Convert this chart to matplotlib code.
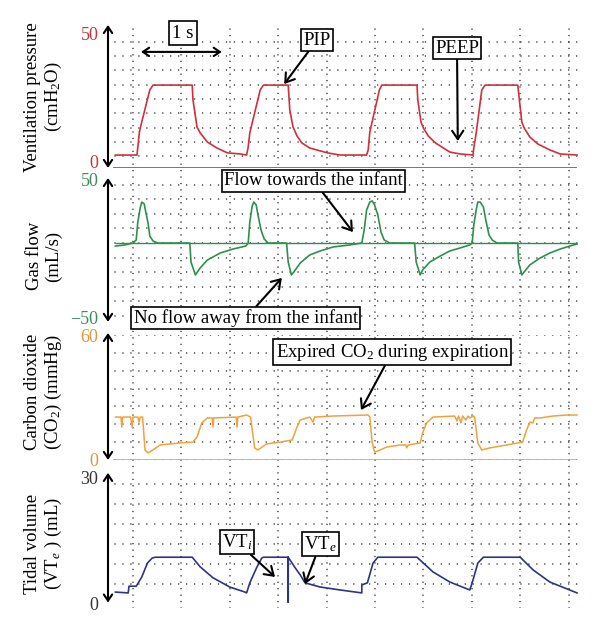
import numpy as np
import matplotlib
matplotlib.use('Agg')
import matplotlib.pyplot as plt

plt.rcParams['font.family'] = ['Liberation Serif', 'DejaVu Serif']
plt.rcParams['mathtext.fontset'] = 'custom'
plt.rcParams['mathtext.rm'] = 'Liberation Serif'
plt.rcParams['mathtext.it'] = 'Liberation Serif:italic'
plt.rcParams['mathtext.bf'] = 'Liberation Serif:bold'

# ---------------- data (time in s) ----------------
pressure_t = [-0.22, 0.05, 0.08, 0.10, 0.21, 0.25, 0.74, 0.75, 0.80, 0.84, 0.93, 1.05, 1.18, 1.34, 1.42,
              1.44, 1.46, 1.59, 1.63, 1.94, 1.96, 2.00, 2.05, 2.11, 2.21, 2.43, 2.59, 2.92,
              2.94, 2.96, 3.08, 3.11, 3.55, 3.56, 3.60, 3.63, 3.69, 3.78, 3.96, 4.09, 4.25,
              4.26, 4.29, 4.36, 4.40, 4.81, 4.83, 4.86, 4.89, 4.96, 5.06, 5.21, 5.34, 5.55]
pressure_v = [4.8, 4.8, 13.3, 15.9, 28.9, 30.7, 30.7, 25.2, 15.2, 13.0, 9.6, 7.4, 5.6, 5.2, 4.8,
              7.8, 13.0, 28.9, 30.7, 30.7, 21.5, 15.2, 11.9, 9.3, 7.4, 5.6, 4.8, 4.8,
              6.7, 13.3, 28.9, 30.7, 30.7, 25.2, 17.0, 14.8, 11.9, 9.3, 5.9, 5.2, 4.8,
              7.4, 13.0, 28.9, 30.7, 30.7, 25.2, 17.0, 14.8, 11.5, 8.9, 6.7, 5.2, 4.8]

flow_t = [-0.22, -0.10, 0.00, 0.04, 0.06, 0.09, 0.11, 0.14, 0.16, 0.19, 0.21, 0.25, 0.31,
          0.71, 0.725, 0.78, 0.84, 0.93, 1.09, 1.25, 1.41, 1.44,
          1.46, 1.49, 1.51, 1.54, 1.56, 1.60, 1.64, 1.69,
          1.92, 1.94, 1.98, 2.01, 2.09, 2.21, 2.34, 2.50, 2.71, 2.86,
          2.89, 2.92, 2.96, 2.99, 3.02, 3.06, 3.10, 3.14, 3.21,
          3.52, 3.54, 3.59, 3.62, 3.71, 3.84, 3.96, 4.09, 4.21, 4.24,
          4.26, 4.29, 4.31, 4.34, 4.38, 4.41, 4.45, 4.49, 4.55,
          4.81, 4.82, 4.86, 4.90, 4.96, 5.09, 5.21, 5.34, 5.46, 5.55]
flow_v = [1.8, 2.6, 4.0, 6.2, 19.3, 29.6, 33.9, 32.5, 26.6, 17.9, 9.1, 5.5, 4.0,
          4.0, -9.9, -19.3, -14.2, -8.4, -3.3, -0.4, 1.8, 4.0,
          19.3, 31.0, 33.9, 31.8, 25.2, 13.5, 6.9, 4.0,
          4.0, -9.9, -19.3, -17.2, -10.6, -4.7, -1.8, 1.1, 2.6, 4.0,
          13.5, 28.1, 33.9, 34.7, 31.8, 24.5, 12.0, 6.2, 4.0,
          4.0, -9.9, -19.3, -15.7, -9.9, -5.5, -1.8, 0.4, 2.6, 4.0,
          17.2, 28.1, 33.9, 33.9, 30.3, 20.8, 9.9, 6.2, 4.0,
          4.0, -9.9, -19.3, -16.4, -12.0, -6.9, -3.3, -0.4, 1.8, 3.3]
flow_baseline = 4.0

co2_t = [-0.22, -0.15, -0.14, -0.13, -0.03, -0.01, 0.00, 0.06, 0.075, 0.09, 0.12, 0.15, 0.19, 0.25, 0.34,
         0.59, 0.75, 0.80, 0.86, 0.93, 0.99, 1.00, 1.01, 1.29, 1.30, 1.31, 1.42, 1.47, 1.52, 1.56,
         1.67, 1.84, 1.99, 2.05, 2.09, 2.21, 2.25, 2.27, 2.50, 2.94, 2.96, 2.99, 3.02, 3.09, 3.17,
         3.34, 3.41, 3.42, 3.44, 3.59, 3.62, 3.67, 3.75, 4.02, 4.05, 4.07, 4.10, 4.12, 4.16, 4.19,
         4.21, 4.25, 4.27, 4.31, 4.36, 4.46, 4.67, 4.87, 4.92, 4.96, 5.00, 5.02, 5.09, 5.25, 5.42, 5.55]
co2_v = [20.6, 20.6, 15.8, 20.6, 20.6, 15.8, 20.6, 20.6, 18.2, 20.6, 20.6, 4.8, 3.4, 4.8, 7.2,
         8.2, 8.6, 11.0, 17.8, 20.2, 20.2, 15.8, 20.2, 20.6, 15.8, 20.6, 21.6, 20.6, 5.8, 4.8,
         7.7, 8.6, 9.6, 15.8, 19.2, 20.6, 18.2, 20.6, 21.1, 21.6, 20.6, 8.2, 3.8, 4.8, 6.2,
         7.2, 7.2, 5.8, 7.2, 8.2, 13.0, 17.8, 20.6, 21.1, 18.7, 21.1, 17.8, 21.1, 19.2, 21.1,
         20.2, 21.1, 20.6, 8.2, 4.8, 5.8, 7.2, 8.6, 14.4, 18.2, 17.8, 20.2, 20.2, 21.1, 21.6, 21.6]

vt_t = [-0.22, -0.06, -0.05, 0.04, 0.05, 0.11, 0.18, 0.24, 0.28, 0.74,
        0.84, 1.00, 1.21, 1.40, 1.42, 1.46, 1.55, 1.61, 1.63, 1.94,
        1.94, 1.94, 2.03, 2.09, 2.15, 2.34, 2.59, 2.86, 2.86, 2.93,
        3.00, 3.06, 3.55, 3.75, 3.96, 4.21, 4.24, 4.31, 4.38, 4.84,
        5.00, 5.21, 5.55]
vt_v = [2.6, 2.4, 4.0, 4.0, 4.3, 6.2, 9.5, 10.7, 10.9, 10.9,
        8.6, 6.0, 3.8, 2.6, 2.4, 4.8, 8.6, 10.7, 10.9, 10.9,
        0.2, 10.9, 8.3, 6.7, 4.8, 3.8, 3.1, 2.4, 4.3, 4.8,
        9.5, 10.9, 10.9, 7.4, 5.0, 3.1, 4.8, 9.5, 10.9, 10.9,
        7.9, 5.0, 2.4]

# ---------------- style ----------------
RED, GREEN, ORANGE, NAVY = '#d22f3d', '#2f8f4e', '#f0a23a', '#2d3480'
RED_T, GREEN_T, ORANGE_T, DARK_T = '#c8323c', '#3d8b57', '#d9973e', '#333333'
FS = 13.5
TFS = 13
W, H = 600, 632
XL, XR = 108, 582
XLIM = (-0.3125, 5.6125)
T0, T1 = -0.22, 5.55

fig = plt.figure(figsize=(W / 100, H / 100), dpi=100)


def rect(top, bottom):
    return [XL / W, 1 - bottom / H, (XR - XL) / W, (bottom - top) / H]


# background vertical dotted grid
bg = fig.add_axes(rect(25, 608))
bg.set_xlim(*XLIM)
bg.set_ylim(0, 1)
bg.axis('off')
for gx in np.arange(0, 5.6, 0.605):
    bg.axvline(gx, color='#1a1a1a', lw=1.1, linestyle=(0, (0.01, 4.2)),
               dash_capstyle='round')

panels = [
    dict(top=33, bottom=168, ylim=(0, 50), ticks=[0, 50], col=RED_T,
         rows=np.arange(4.4, 48, 5.3), arrow=(0, 53.0)),
    dict(top=180, bottom=317, ylim=(-50, 50), ticks=[-50, 50], col=GREEN_T,
         rows=4 + 10.6 * np.arange(-5, 5), arrow=(-53.6, 51.5)),
    dict(top=335, bottom=460, ylim=(0, 60), ticks=[0, 60], col=ORANGE_T,
         rows=np.arange(0, 61, 60 / 7), arrow=(0, 61.0)),
    dict(top=477, bottom=603, ylim=(0, 30), ticks=[0, 30], col=DARK_T,
         rows=-0.2 + 4.77 * np.arange(0, 7), arrow=(0.1, 31.0)),
]
axes = []
for p in panels:
    ax = fig.add_axes(rect(p['top'], p['bottom']))
    ax.set_xlim(*XLIM)
    ax.set_ylim(*p['ylim'])
    ax.patch.set_visible(False)
    for s in ax.spines.values():
        s.set_visible(False)
    ax.set_xticks([])
    ax.set_yticks(p['ticks'])
    ax.set_yticklabels([f"{v}".replace('-', '\u2212') for v in p['ticks']],
                       color=p['col'], fontsize=TFS)
    ax.tick_params(axis='y', length=0, pad=7)
    for r in p['rows']:
        ax.hlines(r, T0, T1, color='#1a1a1a', lw=1.1, linestyle=(0, (0.01, 5.2)),
                  capstyle='round', zorder=0.5)
    ax.annotate('', xy=(0, p['arrow'][1]), xytext=(0, p['arrow'][0]),
                xycoords=('axes fraction', 'data'), textcoords=('axes fraction', 'data'),
                arrowprops=dict(arrowstyle='<->,head_length=0.45,head_width=0.3',
                                lw=1.5, color='black', shrinkA=0, shrinkB=0),
                annotation_clip=False)
    axes.append(ax)

axp, axf, axc, axv = axes
# lift the pressure "0" label a little so it clears the flow "50"
axp.get_yticklabels()[0].set_verticalalignment('baseline')

axp.hlines(0, T0 - 0.03, T1, color=RED, lw=1.2, zorder=2)
axp.plot(pressure_t, pressure_v, color=RED, lw=1.2, zorder=3)

axf.hlines(flow_baseline, T0, T1, color=GREEN, lw=1.0, zorder=2)
axf.plot(flow_t, flow_v, color=GREEN, lw=1.2, zorder=3)

axc.hlines(0, T0 - 0.03, T1, color=ORANGE, lw=1.2, zorder=2)
axc.plot(co2_t, co2_v, color=ORANGE, lw=1.1, zorder=3)

axv.plot(vt_t, vt_v, color=NAVY, lw=1.2, zorder=3)

BOX = dict(boxstyle='square,pad=0.12', fc='white', ec='black', lw=1.2)
ARR = dict(arrowstyle='->,head_length=0.45,head_width=0.3', lw=1.5, color='black',
           shrinkA=0, shrinkB=0)


def note(ax, text, xy, xytext):
    ax.annotate(text, xy=xy, xytext=xytext, ha='center', va='center', fontsize=FS,
                bbox=BOX, arrowprops=ARR, annotation_clip=False, zorder=10)


# 1 s scale
axp.text(0.625, 50, '1 s', ha='center', va='center', fontsize=FS,
         bbox=dict(boxstyle='square,pad=0.2', fc='white', ec='black', lw=1.2), zorder=10)
axp.annotate('', xy=(0.10, 43), xytext=(1.11, 43),
             arrowprops=dict(arrowstyle='<->,head_length=0.45,head_width=0.3', lw=1.5,
                             color='black', shrinkA=0, shrinkB=0), zorder=10)

note(axp, 'PIP', (1.89, 31.1), (2.30, 47.4))
note(axp, 'PEEP', (4.06, 10.0), (4.05, 44.4))
note(axf, 'Flow towards the infant', (2.75, 12.0), (2.26, 49.3))
note(axf, 'No flow away from the infant', (1.86, -21.5), (1.41, -50.7))
note(axc, 'Expired CO$_2$ during expiration', (2.85, 24.0), (3.24, 51.8))
note(axv, 'VT$_i$', (1.775, 6.2), (1.30, 14.5))
note(axv, 'VT$_e$', (2.15, 4.5), (2.34, 14.0))

labels = [
    ('Ventilation pressure\n(cmH$_2$O)', 97),
    ('Gas flow\n(mL/s)', 256),
    ('Carbon dioxide\n(CO$_2$) (mmHg)', 392),
    ('Tidal volume\n(VT$_e$ ) (mL)', 544),
]
for txt, yc in labels:
    fig.text(44 / W, 1 - yc / H, txt, rotation=90, ha='center', va='center',
             multialignment='center', fontsize=FS, linespacing=1.1)

fig.savefig('out.png', dpi=100)
